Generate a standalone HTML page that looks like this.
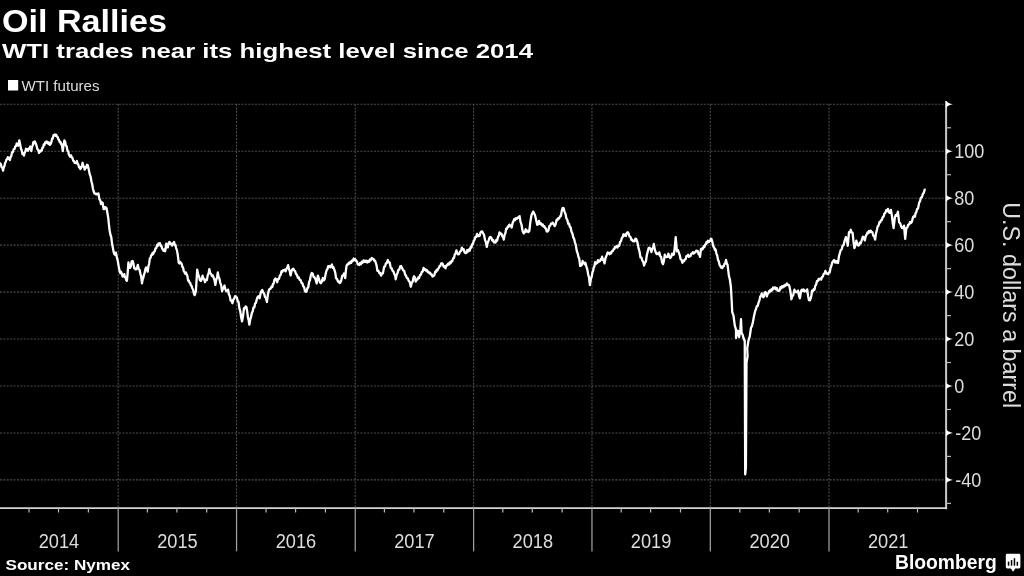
<!DOCTYPE html>
<html><head><meta charset="utf-8"><style>
html,body{margin:0;padding:0;background:#000;width:1024px;height:576px;overflow:hidden}
svg{position:absolute;left:0;top:0;display:block;will-change:transform}
text{font-family:"Liberation Sans",sans-serif}
.g{stroke:#4c4c4c;stroke-width:1.1;stroke-dasharray:2 1.4}
.ln{fill:none;stroke:#fff;stroke-width:2.3;stroke-linejoin:round;stroke-linecap:round}
.ax{stroke:#c8c8c8;stroke-width:2}
.sep{stroke:#a0a0a0;stroke-width:1.25}
.tk{stroke:#bbb;stroke-width:1.2}
.tri{fill:#fff}
.yl{fill:#ddd;font-size:20.3px}
.xl{fill:#ddd;font-size:20px}
.t1{fill:#fff;font-size:31px;font-weight:bold}
.t2{fill:#fff;font-size:21px;font-weight:bold}
.lg{fill:#ddd;font-size:15px}
.src{fill:#fff;font-size:14.5px;font-weight:bold}
.bb{fill:#fff;font-size:20px;font-weight:bold}
</style></head><body>
<svg width="1024" height="576" viewBox="0 0 1024 576">
<text x="2" y="31.6" class="t1" textLength="165" lengthAdjust="spacingAndGlyphs">Oil Rallies</text>
<text x="2" y="58" class="t2" textLength="531" lengthAdjust="spacingAndGlyphs">WTI trades near its highest level since 2014</text>
<rect x="8" y="80" width="10.2" height="10.5" fill="#fff"/>
<text x="21.5" y="91.1" class="lg" textLength="78" lengthAdjust="spacingAndGlyphs">WTI futures</text>
<line x1="0" y1="479.90" x2="945" y2="479.90" class="g"/><line x1="0" y1="432.95" x2="945" y2="432.95" class="g"/><line x1="0" y1="386.00" x2="945" y2="386.00" class="g"/><line x1="0" y1="339.05" x2="945" y2="339.05" class="g"/><line x1="0" y1="292.10" x2="945" y2="292.10" class="g"/><line x1="0" y1="245.15" x2="945" y2="245.15" class="g"/><line x1="0" y1="198.20" x2="945" y2="198.20" class="g"/><line x1="0" y1="151.25" x2="945" y2="151.25" class="g"/><line x1="0" y1="104.30" x2="945" y2="104.30" class="g"/><line x1="118.20" y1="104" x2="118.20" y2="507" class="g"/><line x1="236.56" y1="104" x2="236.56" y2="507" class="g"/><line x1="355.24" y1="104" x2="355.24" y2="507" class="g"/><line x1="473.60" y1="104" x2="473.60" y2="507" class="g"/><line x1="591.96" y1="104" x2="591.96" y2="507" class="g"/><line x1="710.32" y1="104" x2="710.32" y2="507" class="g"/><line x1="829.00" y1="104" x2="829.00" y2="507" class="g"/><path d="M0.00,163.23 L0.78,164.12 L1.55,167.11 L2.33,167.82 L3.10,170.68 L3.75,167.37 L4.40,166.19 L5.05,163.12 L5.70,162.03 L6.40,159.70 L7.10,159.25 L7.80,157.14 L8.50,158.80 L9.20,158.02 L9.90,159.99 L10.60,157.04 L11.30,156.14 L12.00,152.34 L12.87,152.24 L13.73,149.19 L14.60,148.98 L15.30,146.33 L16.00,146.23 L16.70,143.50 L17.45,145.40 L18.20,145.62 L19.30,140.32 L20.30,145.13 L21.00,148.86 L21.70,150.16 L22.40,154.05 L23.20,153.54 L24.00,155.58 L24.67,152.66 L25.33,151.44 L26.00,148.76 L26.70,150.31 L27.40,149.27 L28.10,150.72 L28.80,148.42 L29.50,148.68 L30.20,146.49 L31.30,151.06 L31.97,146.98 L32.63,145.80 L33.30,142.20 L34.00,143.23 L34.70,141.32 L35.40,142.71 L36.50,145.50 L37.33,149.09 L38.17,149.82 L39.00,152.89 L39.67,150.95 L40.35,151.66 L41.03,150.08 L41.70,150.53 L42.40,147.70 L43.10,147.57 L43.80,144.30 L44.47,144.88 L45.13,142.41 L45.80,142.69 L46.45,141.43 L47.10,143.11 L47.75,142.03 L48.40,143.79 L49.10,142.64 L49.80,144.93 L50.50,144.24 L51.30,142.49 L52.10,138.51 L52.80,138.49 L53.50,135.17 L54.20,135.48 L54.90,134.43 L55.60,135.84 L56.30,134.83 L57.10,136.82 L57.75,137.18 L58.40,139.52 L59.05,140.02 L59.70,142.04 L60.40,141.90 L61.10,144.16 L61.80,144.33 L62.80,151.07 L63.60,144.39 L64.40,140.46 L65.15,141.84 L65.90,145.48 L66.70,146.48 L67.50,150.87 L68.20,151.18 L68.90,154.66 L69.60,155.66 L70.30,156.80 L71.00,155.33 L71.70,157.22 L72.45,157.92 L73.20,160.82 L73.90,160.97 L74.60,162.93 L75.30,162.86 L76.10,163.21 L76.90,161.02 L77.60,163.54 L78.30,164.37 L79.00,167.26 L79.67,166.69 L80.33,169.03 L81.00,167.97 L81.80,166.79 L82.60,162.77 L83.30,166.02 L84.00,166.66 L84.70,169.68 L85.47,166.88 L86.25,167.61 L87.03,164.79 L87.80,165.17 L88.90,170.22 L89.75,174.42 L90.60,176.56 L91.40,181.29 L92.20,184.25 L92.95,188.70 L93.70,191.49 L94.50,193.49 L95.30,193.66 L96.10,194.30 L96.90,193.59 L97.65,194.37 L98.40,193.45 L99.50,199.52 L100.25,200.34 L101.00,204.03 L101.80,202.40 L102.60,202.78 L103.60,209.06 L104.30,209.12 L105.00,207.15 L105.70,207.39 L106.50,208.10 L107.30,212.33 L108.30,218.36 L109.00,225.49 L109.70,230.88 L110.47,234.91 L111.25,237.01 L112.03,243.58 L112.80,247.49 L113.60,251.87 L114.40,254.23 L115.15,254.82 L115.90,252.70 L117.00,257.98 L117.75,260.63 L118.50,265.27 L119.60,270.92 L120.30,273.14 L121.00,271.78 L121.70,273.38 L122.70,276.54 L123.50,276.47 L124.30,274.16 L124.95,277.24 L125.60,277.28 L126.25,280.22 L126.90,280.79 L127.65,273.24 L128.40,262.51 L129.20,267.02 L130.00,267.89 L130.80,266.50 L131.60,261.68 L132.60,260.86 L133.40,263.39 L134.20,268.25 L134.88,268.08 L135.57,269.42 L136.25,269.30 L137.03,268.18 L137.80,264.82 L138.67,269.00 L139.53,269.85 L140.40,273.86 L141.20,276.61 L142.00,283.27 L142.67,279.31 L143.33,277.89 L144.00,274.54 L144.70,272.67 L145.40,269.02 L146.10,267.44 L146.90,267.82 L147.70,271.69 L148.40,266.36 L149.10,263.96 L149.80,258.54 L150.50,258.03 L151.20,255.17 L151.90,255.14 L152.60,252.82 L153.30,253.96 L154.00,251.97 L154.78,251.32 L155.55,248.35 L156.32,248.03 L157.10,244.94 L157.80,245.91 L158.50,243.49 L159.20,243.78 L159.88,243.10 L160.57,245.74 L161.25,245.38 L162.03,248.29 L162.80,249.59 L163.60,250.73 L164.40,249.44 L165.20,251.20 L166.25,243.72 L167.03,247.39 L167.80,247.44 L168.90,242.55 L169.65,242.07 L170.40,243.89 L171.20,243.74 L172.00,245.58 L172.70,243.31 L173.40,244.20 L174.10,242.05 L174.77,245.00 L175.43,244.89 L176.10,248.08 L176.90,250.15 L177.70,254.48 L178.75,262.79 L179.43,263.44 L180.12,261.92 L180.80,262.78 L181.60,263.81 L182.40,266.89 L183.10,267.63 L183.80,271.18 L184.50,272.08 L185.20,273.76 L185.90,272.47 L186.60,274.34 L187.35,275.93 L188.10,280.65 L188.80,280.36 L189.50,282.73 L190.20,282.79 L190.90,285.34 L191.60,285.94 L192.30,288.30 L193.10,289.74 L193.90,293.62 L194.70,295.17 L195.90,291.21 L197.20,269.61 L198.10,274.18 L199.00,276.34 L199.90,280.14 L200.80,281.05 L201.70,279.52 L202.60,275.71 L203.40,278.51 L204.20,279.17 L205.00,282.14 L205.95,279.69 L206.90,280.09 L207.70,275.33 L208.50,273.87 L209.30,269.09 L210.20,272.88 L211.10,273.95 L211.93,276.06 L212.77,275.42 L213.60,277.62 L214.50,279.98 L215.40,284.93 L216.20,279.71 L217.00,277.82 L217.80,272.49 L218.60,277.19 L219.40,278.58 L220.20,282.59 L221.15,285.19 L222.10,291.29 L222.90,288.57 L223.70,287.92 L224.50,285.49 L225.40,289.20 L226.30,291.13 L227.20,291.35 L228.10,289.63 L228.93,294.48 L229.77,295.94 L230.60,300.51 L231.50,300.50 L232.40,303.26 L233.30,299.70 L234.20,298.62 L235.10,296.12 L236.00,296.95 L236.83,297.53 L237.67,301.08 L238.50,301.86 L239.40,308.39 L240.30,311.42 L241.20,317.56 L242.10,321.40 L243.05,315.96 L244.00,308.06 L244.80,308.24 L245.60,306.48 L246.40,307.01 L247.20,311.34 L248.00,317.79 L248.65,320.14 L249.30,324.71 L250.20,319.62 L251.10,316.64 L251.90,312.81 L252.70,311.38 L253.50,307.61 L254.30,307.42 L255.10,303.55 L255.90,302.87 L256.85,299.01 L257.80,296.83 L258.70,296.25 L259.60,298.19 L260.50,293.66 L261.40,291.00 L262.30,290.06 L263.20,292.47 L264.10,293.57 L265.00,296.90 L265.95,297.96 L266.90,302.00 L267.80,295.06 L268.70,290.76 L269.60,288.86 L270.50,288.78 L271.40,286.75 L272.30,287.05 L272.95,283.94 L273.60,283.84 L274.50,279.79 L275.40,278.56 L276.30,279.15 L277.20,282.25 L278.10,279.15 L279.00,278.82 L279.83,275.66 L280.67,274.89 L281.50,271.25 L282.30,271.85 L283.10,270.14 L283.90,270.37 L284.80,269.83 L285.70,271.28 L286.50,268.69 L287.30,267.64 L288.10,265.06 L288.93,269.05 L289.77,271.05 L290.60,275.43 L291.50,271.05 L292.40,269.15 L293.30,268.68 L294.20,270.24 L295.10,271.24 L296.00,273.88 L296.95,274.89 L297.90,277.81 L298.80,277.51 L299.70,279.83 L300.60,280.02 L301.50,282.85 L302.40,283.33 L303.30,286.37 L304.13,287.33 L304.97,291.01 L305.80,291.92 L306.60,291.34 L307.40,288.08 L308.20,287.48 L309.10,282.06 L310.00,279.94 L310.90,274.92 L311.80,272.99 L312.70,273.60 L313.60,277.08 L314.55,277.16 L315.50,279.24 L316.70,283.31 L317.90,275.55 L319.10,279.28 L320.00,282.38 L320.90,283.29 L321.85,281.66 L322.80,278.01 L323.70,280.41 L324.60,279.33 L325.80,273.30 L326.60,270.30 L327.40,269.24 L328.20,266.08 L329.03,267.11 L329.87,266.09 L330.70,267.18 L331.90,264.53 L332.70,267.71 L333.50,267.28 L334.30,269.67 L335.20,272.47 L336.10,278.22 L337.05,278.95 L338.00,281.60 L338.80,281.33 L339.60,283.13 L340.40,282.45 L341.30,280.24 L342.20,275.85 L343.10,275.55 L344.00,273.52 L345.20,278.06 L345.85,271.02 L346.50,265.83 L347.30,264.38 L348.10,264.41 L348.90,262.64 L349.70,263.41 L350.50,261.63 L351.30,262.73 L352.10,260.31 L352.90,261.03 L353.70,258.48 L354.53,260.17 L355.37,259.27 L356.20,260.99 L357.00,261.43 L357.80,264.47 L358.60,264.75 L359.40,265.03 L360.20,263.02 L361.00,264.02 L361.83,261.76 L362.67,262.71 L363.50,260.43 L364.30,261.70 L365.10,260.63 L365.90,261.95 L366.70,260.62 L367.50,262.56 L368.30,261.02 L369.13,261.78 L369.97,259.31 L370.80,260.18 L371.70,258.01 L372.60,258.66 L373.35,258.80 L374.10,260.44 L374.85,260.42 L375.60,262.27 L376.50,265.11 L377.40,270.79 L378.35,270.56 L379.30,273.24 L380.20,272.97 L381.10,275.64 L382.00,273.45 L382.90,273.36 L384.10,266.88 L385.00,266.50 L385.90,263.33 L386.85,262.96 L387.80,260.05 L388.70,262.42 L389.60,262.32 L390.80,268.05 L391.70,268.41 L392.60,270.91 L393.50,271.46 L394.40,274.52 L395.05,275.17 L395.70,279.25 L396.60,274.98 L397.50,273.14 L398.40,269.92 L399.30,269.74 L400.20,266.32 L401.10,265.95 L402.30,268.55 L403.25,270.50 L404.20,270.82 L405.10,274.57 L406.00,275.69 L406.90,278.10 L407.80,278.29 L408.70,280.79 L409.60,281.81 L410.80,286.67 L411.75,282.67 L412.70,281.77 L413.40,277.80 L414.10,276.26 L414.90,277.67 L415.70,281.63 L416.60,279.42 L417.50,279.53 L418.32,277.36 L419.14,277.98 L419.96,275.24 L420.88,274.66 L421.80,271.88 L422.70,271.57 L423.60,267.92 L424.40,269.91 L425.20,269.21 L426.00,270.55 L426.83,269.94 L427.67,272.15 L428.50,271.79 L429.30,273.30 L430.10,272.63 L430.90,274.67 L431.70,274.34 L432.50,276.64 L433.30,276.14 L434.25,275.57 L435.20,271.71 L435.95,272.06 L436.70,269.77 L437.45,270.44 L438.20,268.58 L438.92,267.98 L439.64,265.82 L440.36,265.86 L441.08,263.51 L441.80,263.20 L442.70,263.96 L443.60,266.72 L444.55,266.21 L445.50,268.30 L446.40,265.37 L447.30,265.29 L448.10,263.62 L448.90,264.55 L449.70,262.40 L450.53,263.33 L451.37,261.10 L452.20,261.36 L453.10,258.37 L454.00,258.10 L454.80,254.35 L455.60,253.59 L456.40,250.40 L457.30,253.34 L458.20,254.37 L459.15,253.87 L460.10,251.42 L461.00,250.95 L461.90,247.65 L462.80,249.67 L463.70,249.31 L464.60,252.31 L465.50,253.07 L466.40,252.81 L467.30,250.03 L468.13,251.52 L468.97,249.33 L469.80,250.54 L470.60,247.26 L471.40,247.56 L472.20,244.32 L473.00,243.77 L473.80,240.60 L474.60,239.71 L475.43,236.85 L476.27,236.86 L477.10,233.85 L478.00,236.05 L478.90,236.17 L479.70,235.62 L480.50,232.44 L481.30,231.63 L482.20,231.36 L483.10,233.31 L484.05,235.03 L485.00,239.88 L485.90,242.07 L486.80,246.96 L487.70,242.64 L488.60,240.79 L489.50,237.72 L490.40,236.92 L491.35,237.89 L492.30,240.55 L493.10,239.97 L493.90,242.35 L494.70,242.05 L495.50,242.63 L496.30,239.90 L497.10,240.71 L497.90,237.27 L498.70,235.67 L499.50,232.44 L500.45,233.94 L501.40,233.64 L502.20,236.10 L503.00,236.79 L503.80,239.60 L504.60,234.75 L505.40,233.26 L506.20,228.61 L506.98,228.79 L507.75,226.53 L508.52,226.76 L509.30,224.66 L510.10,225.98 L510.90,225.57 L511.70,227.48 L512.60,223.06 L513.50,221.05 L514.30,219.06 L515.10,220.10 L515.90,218.15 L516.85,218.74 L517.80,217.43 L518.70,217.88 L519.60,216.09 L520.50,221.92 L521.40,224.31 L522.60,231.01 L523.80,233.38 L524.75,232.22 L525.70,229.30 L526.60,231.63 L527.50,230.67 L528.40,232.01 L529.30,231.00 L530.50,220.97 L531.40,215.50 L532.30,213.38 L533.25,211.60 L534.20,213.48 L535.10,215.38 L536.00,219.58 L537.20,224.79 L538.10,224.07 L539.00,220.82 L539.90,223.76 L540.80,223.19 L541.75,225.35 L542.70,224.36 L543.50,226.65 L544.30,226.18 L545.10,228.03 L545.90,228.45 L546.70,231.36 L547.50,231.56 L548.45,230.25 L549.40,225.99 L550.20,225.66 L551.00,223.56 L551.80,223.55 L552.70,222.61 L553.60,224.38 L554.80,226.15 L555.70,224.12 L556.60,219.69 L557.43,220.14 L558.27,218.28 L559.10,218.62 L560.00,216.39 L560.90,216.01 L561.80,210.63 L562.70,207.97 L563.60,208.10 L564.50,211.62 L565.45,213.67 L566.40,218.36 L567.30,219.88 L568.20,223.77 L569.00,223.64 L569.80,226.58 L570.60,227.38 L571.50,231.65 L572.40,233.53 L573.23,237.33 L574.07,238.69 L574.90,242.37 L575.80,244.90 L576.70,250.56 L577.80,253.88 L578.50,257.14 L579.20,258.41 L580.20,266.08 L581.25,265.56 L581.92,264.76 L582.60,260.98 L583.30,263.15 L584.00,262.76 L584.70,264.18 L585.40,262.68 L586.50,266.87 L587.50,270.34 L588.20,274.76 L588.90,276.97 L589.90,285.01 L591.00,278.23 L591.70,276.70 L592.40,272.47 L593.08,270.91 L593.75,267.41 L594.42,266.37 L595.10,262.24 L595.80,263.95 L596.50,263.32 L597.20,262.95 L597.90,260.12 L598.60,261.85 L599.30,261.46 L600.00,261.09 L600.70,259.12 L601.40,259.58 L602.10,256.68 L602.80,259.81 L603.50,259.40 L604.50,263.45 L605.60,257.77 L606.90,254.63 L607.60,252.54 L608.30,253.62 L609.00,252.83 L609.70,254.27 L610.40,252.58 L611.10,253.36 L611.95,251.22 L612.80,251.12 L613.50,249.35 L614.20,249.10 L614.90,247.00 L615.60,247.47 L616.50,246.11 L617.40,247.47 L618.30,245.40 L619.20,245.75 L620.10,241.92 L621.00,241.28 L621.83,237.96 L622.67,237.07 L623.50,234.27 L624.30,235.66 L625.10,234.36 L625.90,235.94 L626.80,232.85 L627.70,232.23 L628.60,233.38 L629.50,236.69 L630.45,236.78 L631.40,240.04 L632.20,239.67 L633.00,241.12 L633.80,241.26 L634.60,241.34 L635.40,238.72 L636.20,238.82 L637.40,242.17 L638.60,248.44 L639.55,251.71 L640.50,257.47 L641.40,257.57 L642.30,260.58 L643.20,261.75 L644.10,265.52 L645.00,262.66 L645.90,261.60 L646.85,255.02 L647.80,251.34 L648.70,247.81 L649.60,247.66 L650.50,248.83 L651.40,252.06 L652.20,248.73 L653.00,248.10 L653.80,243.93 L654.75,249.42 L655.70,252.32 L656.60,254.00 L657.50,253.35 L658.40,254.35 L659.30,252.37 L660.20,256.11 L661.10,256.88 L662.05,262.23 L663.00,264.16 L663.90,260.83 L664.80,254.67 L665.70,256.97 L666.60,257.15 L667.50,256.70 L668.40,253.64 L669.30,256.89 L670.20,258.07 L671.15,256.92 L672.10,253.65 L673.00,254.92 L673.90,254.51 L674.80,247.23 L675.70,237.21 L676.90,251.32 L677.80,250.01 L678.70,252.09 L679.65,254.89 L680.60,259.27 L681.50,259.75 L682.40,262.70 L683.20,260.69 L684.00,261.16 L684.80,259.51 L685.63,259.20 L686.47,256.06 L687.30,256.02 L688.10,254.74 L688.90,256.83 L689.70,256.12 L690.50,256.16 L691.30,253.53 L692.10,253.50 L692.90,252.24 L693.70,253.62 L694.50,252.36 L695.33,252.47 L696.17,250.73 L697.00,250.81 L697.80,251.08 L698.60,254.30 L699.40,254.67 L700.00,256.83 L701.00,249.01 L701.70,249.96 L702.40,248.14 L703.10,248.77 L703.80,246.11 L704.50,246.83 L705.20,244.43 L705.90,244.40 L706.60,241.86 L707.30,242.59 L708.00,240.76 L708.70,242.03 L709.40,241.19 L710.10,240.85 L710.80,238.80 L711.50,238.98 L712.50,242.49 L713.30,246.50 L714.10,247.34 L714.85,249.86 L715.60,249.39 L716.40,253.61 L717.20,255.41 L717.98,259.84 L718.75,261.13 L719.52,264.82 L720.30,265.97 L721.00,267.49 L721.70,266.81 L722.40,268.10 L723.10,266.22 L723.80,266.11 L724.50,263.88 L725.25,263.26 L726.00,259.96 L726.80,263.31 L727.60,265.07 L728.90,275.77 L729.90,279.77 L730.90,287.02 L731.60,299.56 L732.25,312.11 L733.50,315.57 L734.75,325.34 L736.00,329.63 L736.00,338.08 L736.95,333.06 L737.90,330.75 L739.10,337.14 L740.40,329.16 L741.00,319.21 L741.60,333.09 L742.55,334.50 L743.50,338.02 L744.75,341.25 L745.20,474.47 L745.90,468.00 L746.50,362.52 L747.60,356.30 L747.20,348.55 L748.50,340.41 L749.75,336.40 L751.00,327.75 L751.95,326.18 L752.90,322.06 L754.10,315.81 L755.05,311.43 L756.00,309.05 L756.83,306.15 L757.67,306.01 L758.50,302.88 L759.60,299.58 L760.30,296.33 L761.00,296.12 L761.70,293.34 L762.45,296.14 L763.20,297.21 L763.90,296.58 L764.60,292.83 L765.30,292.06 L766.10,293.01 L766.90,296.36 L767.60,293.78 L768.30,293.47 L769.00,291.20 L769.67,292.00 L770.33,290.02 L771.00,290.98 L771.70,289.26 L772.40,290.06 L773.10,287.52 L774.05,288.54 L775.00,287.31 L775.90,289.26 L776.80,287.92 L777.70,290.74 L778.60,290.96 L779.55,290.45 L780.50,287.13 L781.30,288.23 L782.10,286.17 L782.90,287.38 L783.70,285.65 L784.50,286.48 L785.30,284.74 L786.13,285.38 L786.97,283.51 L787.80,284.88 L788.70,284.82 L789.60,286.95 L790.50,291.97 L791.40,299.26 L792.30,296.23 L793.20,295.39 L794.40,289.63 L795.35,292.11 L796.30,291.57 L797.20,292.23 L798.10,290.61 L799.00,295.78 L799.90,298.27 L801.10,290.99 L801.93,289.72 L802.77,290.82 L803.60,289.41 L804.50,291.44 L805.40,290.79 L806.30,291.29 L807.20,289.39 L808.10,296.15 L809.00,300.24 L809.90,300.41 L810.80,297.99 L811.45,295.27 L812.10,290.57 L812.90,291.14 L813.70,289.24 L814.50,289.73 L815.30,285.62 L816.10,284.65 L816.90,281.17 L817.80,281.03 L818.70,278.83 L819.53,279.59 L820.37,278.60 L821.20,279.56 L822.00,276.96 L822.80,276.59 L823.60,273.97 L824.50,273.55 L825.40,270.94 L826.35,273.61 L827.30,273.46 L828.10,274.16 L828.90,272.36 L829.70,272.55 L830.60,267.69 L831.50,265.57 L832.40,262.05 L833.30,261.20 L834.15,260.05 L835.00,262.61 L835.75,261.08 L836.50,262.54 L837.25,261.26 L838.00,263.04 L838.95,256.28 L839.90,253.04 L840.80,249.88 L841.70,249.35 L842.60,245.70 L843.50,245.15 L844.70,240.65 L845.90,237.13 L846.85,240.14 L847.80,245.73 L849.00,232.21 L849.90,232.32 L850.80,229.80 L851.70,232.70 L852.60,232.96 L853.50,241.65 L854.40,248.02 L855.35,245.50 L856.30,240.68 L857.20,243.93 L858.10,245.57 L859.00,245.21 L859.90,242.64 L860.80,243.18 L861.70,240.27 L862.90,236.72 L863.85,237.30 L864.80,240.38 L865.70,236.28 L866.60,234.65 L867.40,232.55 L868.20,233.21 L869.00,230.81 L869.83,232.21 L870.67,230.58 L871.50,231.87 L872.40,232.30 L873.30,235.84 L874.20,236.32 L875.10,239.56 L876.00,233.36 L876.90,229.99 L877.73,226.30 L878.57,225.55 L879.40,222.16 L880.20,222.38 L881.00,220.11 L881.80,220.12 L882.70,217.17 L883.60,216.57 L884.50,213.37 L885.40,212.75 L886.23,210.21 L887.07,211.11 L887.90,208.84 L888.80,211.92 L889.70,212.90 L890.90,209.92 L891.80,214.90 L892.70,222.73 L893.60,228.10 L894.90,217.16 L895.80,214.97 L896.70,215.69 L897.90,211.74 L899.10,222.16 L900.30,223.48 L901.25,226.55 L902.20,228.15 L903.10,227.82 L904.00,225.65 L905.20,238.86 L906.40,227.99 L907.30,227.56 L908.20,224.56 L909.15,224.54 L910.10,221.97 L911.00,222.99 L911.90,221.64 L913.10,216.97 L914.00,216.10 L914.90,216.87 L915.55,213.30 L916.20,212.51 L917.10,208.95 L918.00,208.58 L919.20,202.62 L920.10,200.96 L921.00,197.45 L921.90,197.09 L922.80,194.05 L923.75,192.90 L924.70,189.70" class="ln"/><line x1="946.1" y1="101" x2="946.1" y2="509.2" class="ax"/><line x1="0" y1="508.2" x2="947.1" y2="508.2" class="ax" style="stroke-width:1.7;stroke:#d4d4d4"/><line x1="118.20" y1="508" x2="118.20" y2="551.4" class="sep"/><line x1="236.56" y1="508" x2="236.56" y2="551.4" class="sep"/><line x1="355.24" y1="508" x2="355.24" y2="551.4" class="sep"/><line x1="473.60" y1="508" x2="473.60" y2="551.4" class="sep"/><line x1="591.96" y1="508" x2="591.96" y2="551.4" class="sep"/><line x1="710.32" y1="508" x2="710.32" y2="551.4" class="sep"/><line x1="829.00" y1="508" x2="829.00" y2="551.4" class="sep"/><line x1="29.02" y1="508" x2="29.02" y2="512.5" class="tk"/><line x1="58.53" y1="508" x2="58.53" y2="512.5" class="tk"/><line x1="88.37" y1="508" x2="88.37" y2="512.5" class="tk"/><line x1="147.38" y1="508" x2="147.38" y2="512.5" class="tk"/><line x1="176.89" y1="508" x2="176.89" y2="512.5" class="tk"/><line x1="206.72" y1="508" x2="206.72" y2="512.5" class="tk"/><line x1="266.07" y1="508" x2="266.07" y2="512.5" class="tk"/><line x1="295.57" y1="508" x2="295.57" y2="512.5" class="tk"/><line x1="325.41" y1="508" x2="325.41" y2="512.5" class="tk"/><line x1="384.42" y1="508" x2="384.42" y2="512.5" class="tk"/><line x1="413.93" y1="508" x2="413.93" y2="512.5" class="tk"/><line x1="443.77" y1="508" x2="443.77" y2="512.5" class="tk"/><line x1="502.78" y1="508" x2="502.78" y2="512.5" class="tk"/><line x1="532.29" y1="508" x2="532.29" y2="512.5" class="tk"/><line x1="562.12" y1="508" x2="562.12" y2="512.5" class="tk"/><line x1="621.14" y1="508" x2="621.14" y2="512.5" class="tk"/><line x1="650.65" y1="508" x2="650.65" y2="512.5" class="tk"/><line x1="680.48" y1="508" x2="680.48" y2="512.5" class="tk"/><line x1="739.82" y1="508" x2="739.82" y2="512.5" class="tk"/><line x1="769.33" y1="508" x2="769.33" y2="512.5" class="tk"/><line x1="799.17" y1="508" x2="799.17" y2="512.5" class="tk"/><line x1="858.18" y1="508" x2="858.18" y2="512.5" class="tk"/><line x1="887.69" y1="508" x2="887.69" y2="512.5" class="tk"/><line x1="917.52" y1="508" x2="917.52" y2="512.5" class="tk"/><path d="M946,476.30 Q948,479.10 953,479.90 Q948,480.70 946,483.50 Z" class="tri"/><path d="M946,429.35 Q948,432.15 953,432.95 Q948,433.75 946,436.55 Z" class="tri"/><path d="M946,382.40 Q948,385.20 953,386.00 Q948,386.80 946,389.60 Z" class="tri"/><path d="M946,335.45 Q948,338.25 953,339.05 Q948,339.85 946,342.65 Z" class="tri"/><path d="M946,288.50 Q948,291.30 953,292.10 Q948,292.90 946,295.70 Z" class="tri"/><path d="M946,241.55 Q948,244.35 953,245.15 Q948,245.95 946,248.75 Z" class="tri"/><path d="M946,194.60 Q948,197.40 953,198.20 Q948,199.00 946,201.80 Z" class="tri"/><path d="M946,147.65 Q948,150.45 953,151.25 Q948,152.05 946,154.85 Z" class="tri"/><path d="M946,100.70 Q948,103.50 953,104.30 Q948,105.10 946,107.90 Z" class="tri"/><line x1="946" y1="503.38" x2="951" y2="503.38" class="tk"/><line x1="946" y1="456.43" x2="951" y2="456.43" class="tk"/><line x1="946" y1="409.48" x2="951" y2="409.48" class="tk"/><line x1="946" y1="362.52" x2="951" y2="362.52" class="tk"/><line x1="946" y1="315.57" x2="951" y2="315.57" class="tk"/><line x1="946" y1="268.62" x2="951" y2="268.62" class="tk"/><line x1="946" y1="221.67" x2="951" y2="221.67" class="tk"/><line x1="946" y1="174.72" x2="951" y2="174.72" class="tk"/><line x1="946" y1="127.77" x2="951" y2="127.77" class="tk"/>
<text x="955.2" y="487.0" class="yl" textLength="26.1" lengthAdjust="spacingAndGlyphs">-40</text><text x="955.2" y="440.1" class="yl" textLength="26.1" lengthAdjust="spacingAndGlyphs">-20</text><text x="954.2" y="393.1" class="yl" textLength="10.0" lengthAdjust="spacingAndGlyphs">0</text><text x="954.2" y="346.2" class="yl" textLength="20.1" lengthAdjust="spacingAndGlyphs">20</text><text x="954.2" y="299.2" class="yl" textLength="20.1" lengthAdjust="spacingAndGlyphs">40</text><text x="954.2" y="252.2" class="yl" textLength="20.1" lengthAdjust="spacingAndGlyphs">60</text><text x="954.2" y="205.3" class="yl" textLength="20.1" lengthAdjust="spacingAndGlyphs">80</text><text x="954.2" y="158.3" class="yl" textLength="30.1" lengthAdjust="spacingAndGlyphs">100</text>
<text x="59.0" y="548" class="xl" text-anchor="middle" textLength="40.5" lengthAdjust="spacingAndGlyphs">2014</text><text x="177.4" y="548" class="xl" text-anchor="middle" textLength="40.5" lengthAdjust="spacingAndGlyphs">2015</text><text x="295.9" y="548" class="xl" text-anchor="middle" textLength="40.5" lengthAdjust="spacingAndGlyphs">2016</text><text x="414.4" y="548" class="xl" text-anchor="middle" textLength="40.5" lengthAdjust="spacingAndGlyphs">2017</text><text x="532.8" y="548" class="xl" text-anchor="middle" textLength="40.5" lengthAdjust="spacingAndGlyphs">2018</text><text x="651.1" y="548" class="xl" text-anchor="middle" textLength="40.5" lengthAdjust="spacingAndGlyphs">2019</text><text x="769.7" y="548" class="xl" text-anchor="middle" textLength="40.5" lengthAdjust="spacingAndGlyphs">2020</text><text x="888.2" y="548" class="xl" text-anchor="middle" textLength="40.5" lengthAdjust="spacingAndGlyphs">2021</text>
<text x="0" y="0" transform="translate(1003,305.2) rotate(90)" text-anchor="middle" style="fill:#ddd;font-size:23.3px">U.S. dollars a barrel</text>
<text x="5.5" y="570" class="src" textLength="124.5" lengthAdjust="spacingAndGlyphs">Source: Nymex</text>
<text x="895" y="569.2" class="bb" textLength="101.7" lengthAdjust="spacingAndGlyphs">Bloomberg</text>
<path d="M1007.3,553.8 H1019 Q1020.4,553.8 1020.4,555.2 V567 Q1020.4,568.4 1019,568.4 H1015.3 L1013.1,571.8 L1010.9,568.4 H1007.3 Q1005.8,568.4 1005.8,567 V555.2 Q1005.8,553.8 1007.3,553.8 Z" fill="#fff"/>
<rect x="1007.8" y="561.6" width="1.5" height="4.1" fill="#000"/>
<rect x="1010.8" y="560.1" width="1.5" height="5.6" fill="#000"/>
<rect x="1013.7" y="558.2" width="1.5" height="7.5" fill="#000"/>
<rect x="1016.6" y="561.8" width="1.5" height="3.9" fill="#000"/>
</svg>
</body></html>
